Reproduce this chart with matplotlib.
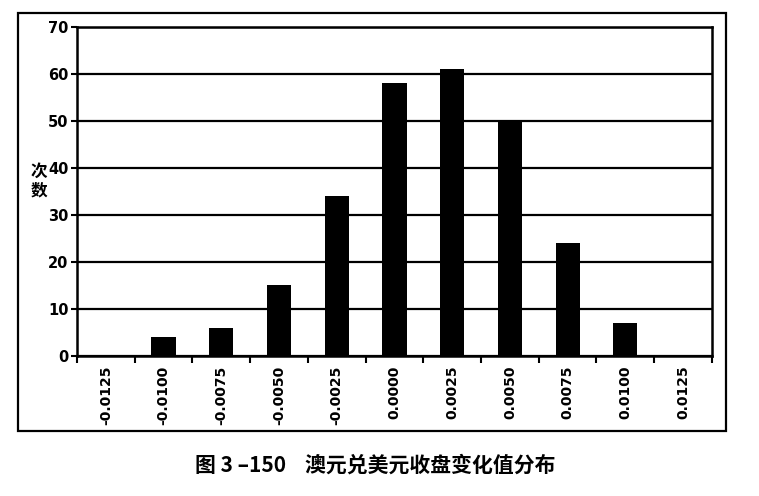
import numpy as np
import matplotlib.pyplot as plt
from matplotlib.patches import Rectangle

plt.rcParams['font.family'] = ['DejaVu Sans', 'Noto Sans CJK SC']

# ─── Data ─────────────────────────────────────────────────────────────────────
bins = ['-0.0125', '-0.0100', '-0.0075', '-0.0050', '-0.0025', '0.0000',
        '0.0025', '0.0050', '0.0075', '0.0100', '0.0125']
counts = [0, 4, 6, 15, 34, 58, 61, 50, 24, 7, 0]
y_ticks = [0, 10, 20, 30, 40, 50, 60, 70]

fig = plt.figure(figsize=(7.59, 4.96), dpi=100)
ax = fig.add_axes([0.1014, 0.2823, 0.8366, 0.6633])

x = np.arange(len(bins))
ax.bar(x, counts, width=0.42, color='black', zorder=3)

ax.set_xlim(-0.5, len(bins) - 0.5)
ax.set_ylim(0, 70)
ax.set_yticks(y_ticks)
ax.set_yticklabels([str(v) for v in y_ticks], fontsize=10.5, fontweight='bold')
ax.yaxis.grid(True, color='black', linewidth=1.6, zorder=1)

# category boundaries as major ticks, labels on the centres (minor)
ax.set_xticks(np.arange(len(bins) + 1) - 0.5)
ax.set_xticklabels([])
ax.set_xticks(x, minor=True)
ax.set_xticklabels(bins, minor=True, rotation=90, fontsize=10,
                   fontweight='bold', va='top')
ax.tick_params(axis='x', which='minor', length=0, pad=7)
ax.tick_params(axis='x', which='major', length=5, width=1.5, direction='out')
ax.tick_params(axis='y', length=4, width=1.5, direction='out', pad=2)

for s in ax.spines.values():
    s.set_linewidth(1.8)
    s.set_color('black')

ax.set_ylabel('次\n数', rotation=0, fontsize=12, fontweight='bold',
              family=['Noto Sans CJK SC', 'DejaVu Sans'], linespacing=1.1)
ax.yaxis.set_label_coords(-0.06, 0.475)

# outer frame round the chart
fig.patches.append(Rectangle((0.0237, 0.131), 0.9328, 0.843, transform=fig.transFigure,
                             fill=False, edgecolor='black', linewidth=1.6))

fig.text(0.494, 0.062, '图 3 –150    澳元兑美元收盘变化值分布', ha='center', va='center',
         fontsize=15, fontweight='bold', family=['Noto Sans CJK SC', 'DejaVu Sans'])

fig.savefig('out.png', dpi=100)
